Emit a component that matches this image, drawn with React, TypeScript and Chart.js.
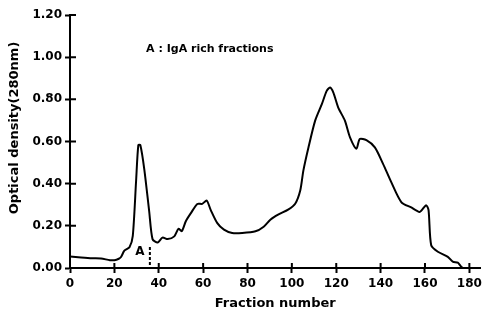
import React, { useEffect, useRef } from "react";
import { Chart, registerables } from "chart.js";

Chart.register(...registerables);

const fractionX = [
  0, 5, 10, 14, 18, 20, 22, 23, 24.5, 26.8, 28.3, 29.8, 30.8, 31.7, 33.5, 35.7,
  37.2, 39.5, 41.7, 44, 47, 48.9, 50.4, 52.2, 54.4, 57.4, 59.6, 61.6, 63.4,
  66.4, 69.4, 73.1, 77.6, 83.6, 87.3, 90.3, 94, 98.3, 101.5, 103.8, 105.2,
  107.5, 110.5, 113.5, 115.7, 117.2, 118.7, 120.9, 123.9, 126.2, 129.1, 130.6,
  133.6, 137.4, 141.1, 144.8, 149.3, 153.8, 157.6, 160.5, 161.6, 162.8, 165.8,
  170.3, 172.5, 174.8, 176.2, 177,
];
const opticalDensity = [
  0.055, 0.05, 0.046, 0.045, 0.037, 0.037, 0.044, 0.052, 0.082, 0.098, 0.152,
  0.415, 0.583, 0.583, 0.467, 0.268, 0.137, 0.121, 0.144, 0.137, 0.15, 0.186,
  0.175, 0.222, 0.259, 0.304, 0.304, 0.32, 0.276, 0.213, 0.182, 0.166, 0.166,
  0.174, 0.196, 0.229, 0.254, 0.277, 0.305, 0.369, 0.463, 0.573, 0.699, 0.777,
  0.84, 0.856, 0.832, 0.761, 0.699, 0.62, 0.566, 0.612, 0.606, 0.572, 0.494,
  0.407, 0.313, 0.287, 0.266, 0.298, 0.274, 0.108, 0.077, 0.053, 0.03, 0.025,
  0.008, 0,
];
const markerX = [36, 36];
const markerY = [0.1, 0];
const xTicks = [0, 20, 40, 60, 80, 100, 120, 140, 160, 180];
const yTicks = [0, 0.2, 0.4, 0.6, 0.8, 1.0, 1.2];
const notes = [
  { text: "A : IgA rich fractions", x: 63, y: 1.04, size: 11 },
  { text: "A", x: 31.5, y: 0.075, size: 12 },
];
const xTitle = "Fraction number";
const yTitle = "Optical density(280nm)";

const FONT = "'DejaVu Sans', sans-serif";

const overlay = {
  id: "overlay",
  afterDraw(chart: any) {
    const { ctx } = chart;
    const x = chart.scales.x;
    const y = chart.scales.y;
    ctx.save();
    ctx.strokeStyle = "#000";
    ctx.lineWidth = 2;
    ctx.beginPath();
    x.ticks.forEach((t: any) => {
      const px = x.getPixelForValue(t.value);
      ctx.moveTo(px, y.bottom);
      ctx.lineTo(px, y.bottom - 5);
    });
    y.ticks.forEach((t: any) => {
      const py = y.getPixelForValue(t.value);
      ctx.moveTo(x.left, py);
      ctx.lineTo(x.left + 6, py);
    });
    ctx.stroke();
    ctx.fillStyle = "#000";
    ctx.textAlign = "center";
    ctx.textBaseline = "middle";
    notes.forEach((n) => {
      ctx.font = `bold ${n.size}px ${FONT}`;
      ctx.fillText(n.text, x.getPixelForValue(n.x), y.getPixelForValue(n.y));
    });
    ctx.restore();
  },
};

export default function App() {
  const ref = useRef<HTMLCanvasElement>(null);
  useEffect(() => {
    document.body.style.margin = "0";
    const chart = new Chart(ref.current!, {
      type: "line",
      data: {
        datasets: [
          {
            data: fractionX.map((v, i) => ({ x: v, y: opticalDensity[i] })),
            borderColor: "#000",
            borderWidth: 2,
            pointRadius: 0,
            tension: 0.25,
            fill: false,
          },
          {
            data: markerX.map((v, i) => ({ x: v, y: markerY[i] })),
            borderColor: "#000",
            borderWidth: 2,
            borderDash: [3, 2],
            pointRadius: 0,
            fill: false,
          },
        ],
      },
      options: {
        animation: false,
        responsive: false,
        layout: { padding: { top: 15, right: 4, left: 0, bottom: 0 } },
        plugins: {
          legend: { display: false },
          tooltip: { enabled: false },
        },
        scales: {
          x: {
            type: "linear",
            min: 0,
            max: 185,
            afterBuildTicks: (s: any) => {
              s.ticks = xTicks.map((v) => ({ value: v }));
            },
            afterFit: (s: any) => {
              s.height = 48;
            },
            border: { display: true, color: "#000", width: 2 },
            grid: {
              drawOnChartArea: false,
              drawTicks: true,
              tickLength: 5,
              tickWidth: 2,
              color: "#000",
            },
            ticks: {
              autoSkip: false,
              maxRotation: 0,
              padding: 4,
              color: "#000",
              font: { family: FONT, weight: "bold", size: 12 },
            },
            title: {
              display: true,
              text: xTitle,
              color: "#000",
              padding: { top: 0, bottom: 5 },
              font: { family: FONT, weight: "bold", size: 13 },
            },
          },
          y: {
            type: "linear",
            min: 0,
            max: 1.2,
            afterBuildTicks: (s: any) => {
              s.ticks = yTicks.map((v) => ({ value: v }));
            },
            afterFit: (s: any) => {
              s.width = 70;
            },
            border: { display: true, color: "#000", width: 2 },
            grid: {
              drawOnChartArea: false,
              drawTicks: true,
              tickLength: 5,
              tickWidth: 2,
              color: "#000",
            },
            ticks: {
              padding: 3,
              color: "#000",
              font: { family: FONT, weight: "bold", size: 12 },
              callback: (v: any) => Number(v).toFixed(2),
            },
            title: {
              display: true,
              text: "      " + yTitle,
              color: "#000",
              padding: { top: 7, bottom: 2 },
              font: { family: FONT, weight: "bold", size: 13 },
            },
          },
        },
      },
      plugins: [overlay],
    });
    return () => chart.destroy();
  }, []);
  return (
    <div style={{ position: "absolute", left: 0, top: 0, width: 486, height: 316 }}>
      <canvas ref={ref} width={486} height={316} style={{ display: "block" }} />
    </div>
  );
}
